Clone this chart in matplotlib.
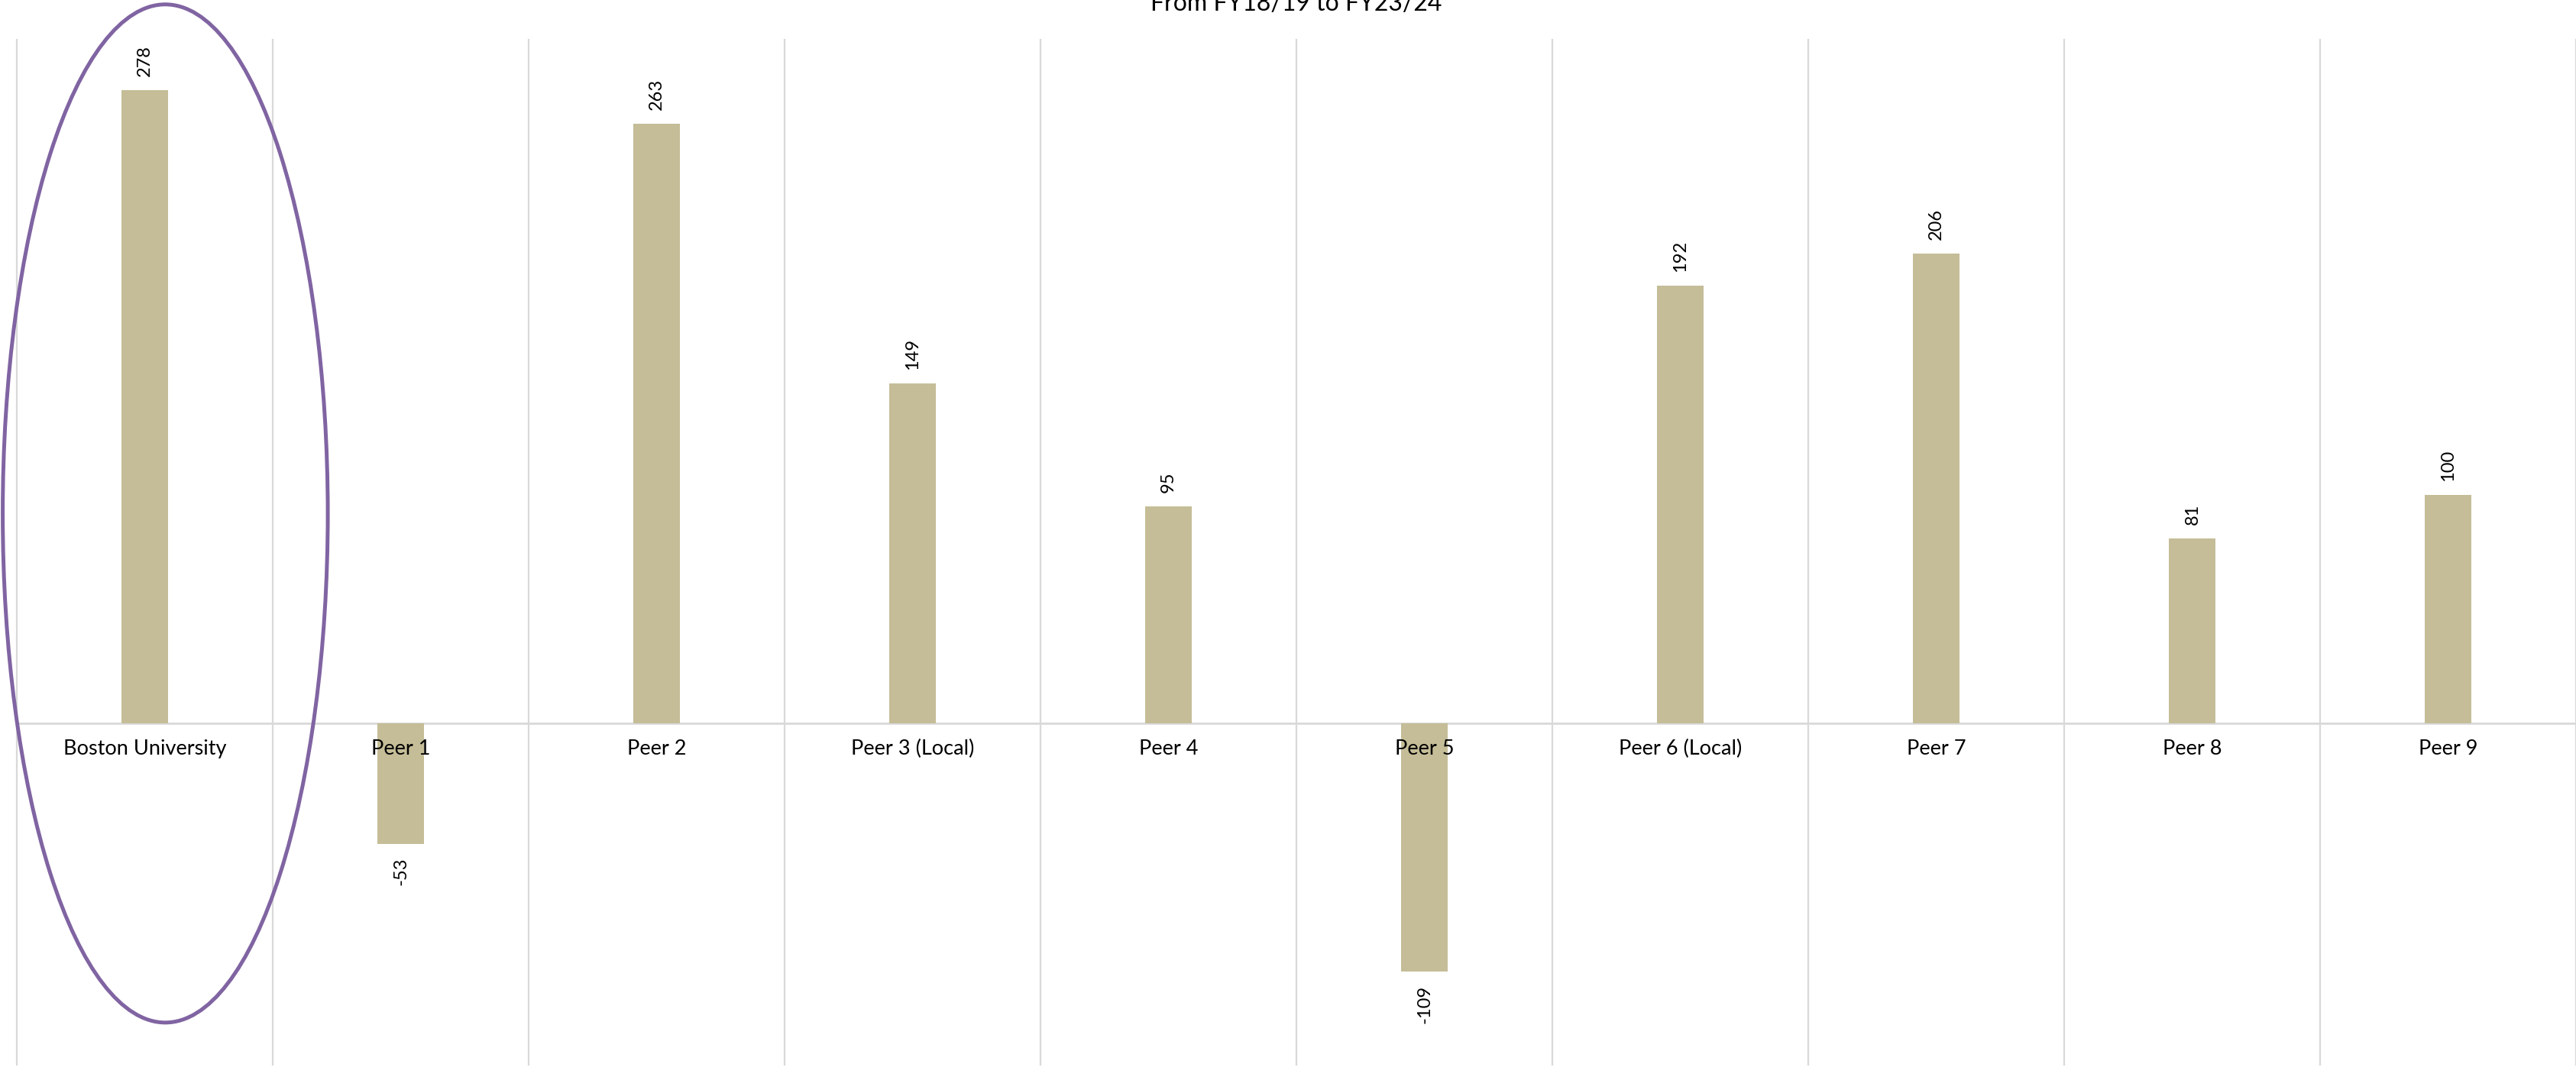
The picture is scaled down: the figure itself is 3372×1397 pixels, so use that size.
import matplotlib
matplotlib.use('Agg')
import matplotlib.pyplot as plt
from matplotlib.patches import Ellipse

plt.rcParams['font.family'] = ['Lato', 'DejaVu Sans']

# data
schools = ['Boston University', 'Peer 1', 'Peer 2', 'Peer 3 (Local)', 'Peer 4',
           'Peer 5', 'Peer 6 (Local)', 'Peer 7', 'Peer 8', 'Peer 9']
change = [278, -53, 263, 149, 95, -109, 192, 206, 81, 100]
title = 'From FY18/19 to FY23/24'

bar_color = '#C4BD97'
grid_color = '#D9D9D9'
ring_color = '#8064A2'

W, H, DPI = 3373, 1397, 100
fig = plt.figure(figsize=(W / DPI, H / DPI), dpi=DPI)
ax = fig.add_axes([22 / W, 3 / H, 3350.5 / W, 1342 / H])

x = list(range(len(schools)))
ax.bar(x, change, width=0.182, color=bar_color, zorder=2)

ax.set_xlim(-0.5, len(schools) - 0.5)
ax.set_ylim(-150, 300)
for s in ax.spines.values():
    s.set_visible(False)
ax.set_xticks([])
ax.set_yticks([])

# gridlines between categories + zero line
for i in range(len(schools) + 1):
    ax.axvline(i - 0.5, color=grid_color, lw=1.6, zorder=0, clip_on=False)
ax.axhline(0, color=grid_color, lw=2.0, zorder=1)

# category names just under the zero line
for i, name in enumerate(schools):
    ax.annotate(name, xy=(i, 0), xytext=(0, -24.5), textcoords='offset points',
                ha='center', va='center', fontsize=19.5, color='#000000', zorder=3)

# value labels
for i, v in enumerate(change):
    off = 13 if v >= 0 else -13
    ax.annotate(str(v), xy=(i, v), xytext=(0, off), textcoords='offset points',
                ha='center', va='bottom' if v >= 0 else 'top', rotation=90,
                fontsize=17, color='#000000', zorder=3)

# highlight ring around Boston University
ring = Ellipse((0.08, 92), width=1.27, height=447, fill=False,
               edgecolor=ring_color, lw=3.6, zorder=4, clip_on=False)
ax.add_patch(ring)

fig.text(1697 / W, 1 - 14 / H, title, ha='center', va='baseline', fontsize=23)

fig.savefig('out.png', dpi=DPI)
